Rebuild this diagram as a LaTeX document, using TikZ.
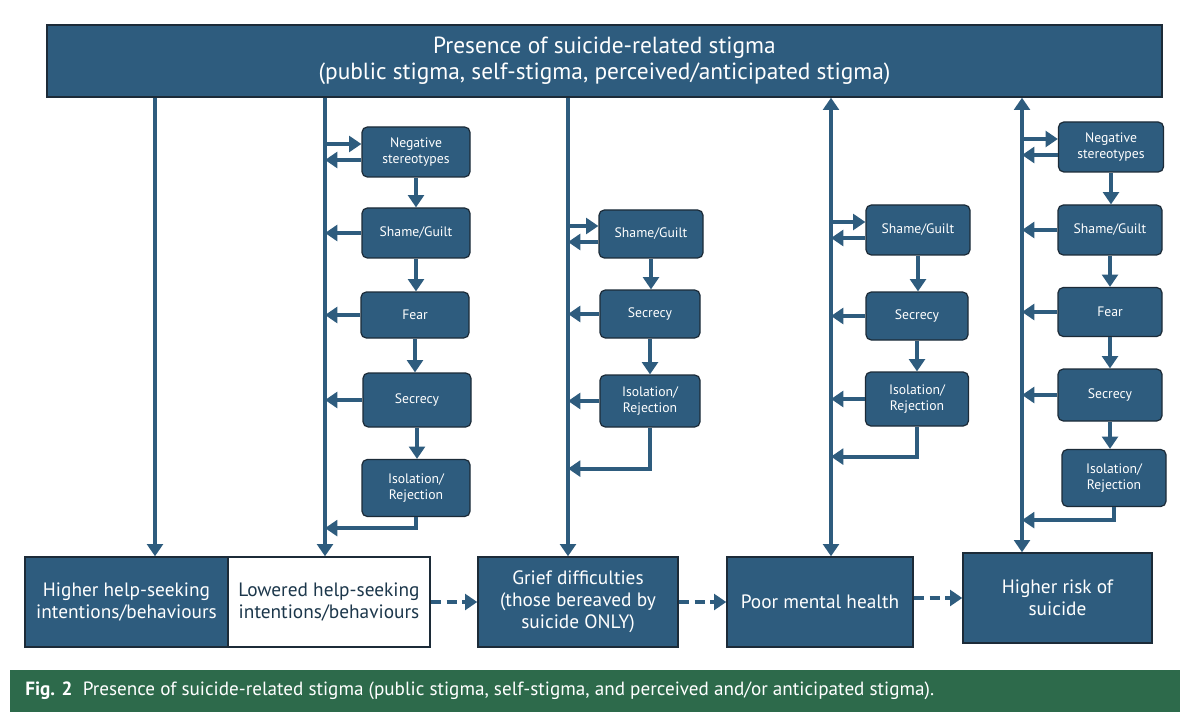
\documentclass[tikz,border=0pt]{standalone}
\usepackage{fontspec}
\setmainfont{PT Sans}
\usetikzlibrary{arrows.meta}
\definecolor{boxblue}{HTML}{2E5C7E}
\definecolor{boxedge}{HTML}{1C2B38}
\definecolor{capgreen}{HTML}{2D6A4B}
\begin{document}
\begin{tikzpicture}
        [
          x=0.02cm, y=-0.02cm,
          big/.style={draw=boxedge, line width=0.8pt, fill=boxblue, text=white, align=center,
                      inner sep=0pt, font=\fontsize{11}{12.5}\selectfont},
          stage/.style={draw=boxedge, line width=0.7pt, fill=boxblue, text=white, align=center,
                       rounded corners=3pt, inner sep=0pt,
                       font=\fontsize{7.8}{9.2}\selectfont},
          arr/.style={draw=boxblue, line width=2.3pt, -{Triangle[width=9pt,length=7pt]}},
          both/.style={arr, {Triangle[width=9pt,length=7pt]}-{Triangle[width=9pt,length=7pt]}},
          dasharr/.style={arr, dash pattern=on 6pt off 3pt}
        ]
        \useasboundingbox (0,0) rectangle (1200,726);
        % top box
        \node [big, minimum width=1115*0.02cm, minimum height=72*0.02cm,
               font=\fontsize{13.3}{15}\selectfont] (top) at (604.5,61)
              {Presence of suicide-related stigma\\(public stigma, self-stigma, perceived/anticipated stigma)};
        % bottom row
        \node [big, minimum width=203*0.02cm, minimum height=90*0.02cm] (high) at (126.5,602) {Higher help-seeking\\intentions/behaviours};
        \node [big, fill=white, text=boxblue!60!black, minimum width=202*0.02cm, minimum height=90*0.02cm] (low) at (329,602) {Lowered help-seeking\\intentions/behaviours};
        \node [big, minimum width=200*0.02cm, minimum height=90*0.02cm] (grief) at (578,602) {Grief difficulties\\(those bereaved by\\suicide ONLY)};
        \node [big, minimum width=186*0.02cm, minimum height=90*0.02cm] (poor) at (820,602) {Poor mental health};
        \node [big, minimum width=189*0.02cm, minimum height=90*0.02cm] (risk) at (1057.5,598) {Higher risk of\\suicide};
        % trunks
        \coordinate (t0) at (155,0);
        \coordinate (t1) at (325,0);
        \coordinate (t2) at (568,0);
        \coordinate (t3) at (831,0);
        \coordinate (t4) at (1022,0);
        \draw [arr] (top.south -| t0) -- (high.north -| t0);
        \draw [arr] (top.south -| t1) -- (low.north -| t1);
        \draw [arr] (top.south -| t2) -- (grief.north -| t2);
        \draw [both] (top.south -| t3) -- (poor.north -| t3);
        \draw [both] (top.south -| t4) -- (risk.north -| t4);
        % column 1
        \node [stage, minimum width=108*0.02cm, minimum height=50*0.02cm] (a1) at (416,152) {Negative\\stereotypes};
        \node [stage, minimum width=108*0.02cm, minimum height=50*0.02cm] (a2) at (416,233) {Shame/Guilt};
        \node [stage, minimum width=108*0.02cm, minimum height=46*0.02cm] (a3) at (415,315) {Fear};
        \node [stage, minimum width=108*0.02cm, minimum height=54*0.02cm] (a4) at (417,400) {Secrecy};
        \node [stage, minimum width=108*0.02cm, minimum height=57*0.02cm] (a5) at (416,488) {Isolation/\\Rejection};
        % column 2
        \node [stage, minimum width=104*0.02cm, minimum height=48*0.02cm] (b1) at (651,234) {Shame/Guilt};
        \node [stage, minimum width=100*0.02cm, minimum height=48*0.02cm] (b2) at (650,314) {Secrecy};
        \node [stage, minimum width=100*0.02cm, minimum height=52*0.02cm] (b3) at (650,401) {Isolation/\\Rejection};
        % column 3
        \node [stage, minimum width=104*0.02cm, minimum height=50*0.02cm] (c1) at (918,230) {Shame/Guilt};
        \node [stage, minimum width=102*0.02cm, minimum height=48*0.02cm] (c2) at (917,316) {Secrecy};
        \node [stage, minimum width=103*0.02cm, minimum height=54*0.02cm] (c3) at (917,399) {Isolation/\\Rejection};
        % column 4
        \node [stage, minimum width=105*0.02cm, minimum height=50*0.02cm] (d1) at (1111,147) {Negative\\stereotypes};
        \node [stage, minimum width=104*0.02cm, minimum height=50*0.02cm] (d2) at (1110,230) {Shame/Guilt};
        \node [stage, minimum width=104*0.02cm, minimum height=49*0.02cm] (d3) at (1110,312) {Fear};
        \node [stage, minimum width=104*0.02cm, minimum height=52*0.02cm] (d4) at (1110,395) {Secrecy};
        \node [stage, minimum width=104*0.02cm, minimum height=57*0.02cm] (d5) at (1114,478) {Isolation/\\Rejection};
        % chains down
        \foreach \u/\v in {a1/a2,a2/a3,a3/a4,a4/a5,b1/b2,b2/b3,c1/c2,c2/c3,d1/d2,d2/d3,d3/d4,d4/d5} {
            \draw [arr] (\u.south) -- (\u.south |- \v.north);
        }
        % feedback into the trunk
        \foreach \u/\t in {a2/t1,a3/t1,a4/t1,b2/t2,b3/t2,c2/t3,c3/t3,d2/t4,d3/t4,d4/t4} {
            \draw [arr] (\u.west) -- (\u.west -| \t);
        }
        % first stage of each column: in and out
        \foreach \u/\t in {a1/t1,b1/t2,c1/t3,d1/t4} {
            \draw [arr] ([yshift=0.16cm]\u.west -| \t) -- ([yshift=0.16cm]\u.west);
            \draw [arr] ([yshift=-0.16cm]\u.west) -- ([yshift=-0.16cm]\u.west -| \t);
        }
        % last stage back to the trunk
        \draw [arr] (a5.south) |- ([yshift=-0.22cm]a5.south -| t1);
        \draw [arr] (b3.south) |- ([yshift=-0.82cm]b3.south -| t2);
        \draw [arr] (c3.south) |- ([yshift=-0.6cm]c3.south -| t3);
        \draw [arr] (d5.south) |- ([yshift=-0.26cm]d5.south -| t4);
        % outcomes
        \draw [dasharr] (low.east) -- (grief.west);
        \draw [dasharr] (grief.east) -- (poor.west);
        \draw [dasharr] (poor.east |- risk.west) -- (risk.west);
        % caption
        \fill [capgreen] (10,670) rectangle (1180,712);
        \node [anchor=west, text=white, inner sep=0pt, font=\fontsize{10.9}{12}\selectfont] (cap) at (25,691)
              {\textbf{Fig. 2}\ \ Presence of suicide-related stigma (public stigma, self-stigma, and perceived and/or anticipated stigma).};
\end{tikzpicture}
\end{document}
